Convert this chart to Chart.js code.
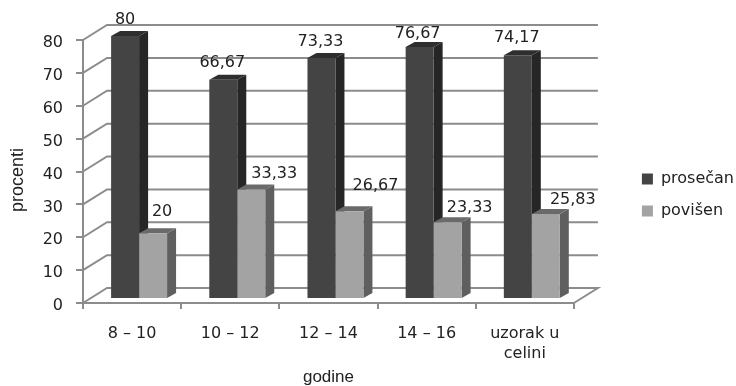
<!DOCTYPE html>
<html>
<head>
<meta charset="utf-8">
<style>
  html, body { margin: 0; background: #fff; }
  canvas { display: block; filter: blur(0.4px); }
</style>
<script src="https://cdn.jsdelivr.net/npm/chart.js@4/dist/chart.umd.min.js"></script>
</head>
<body>
<canvas id="chart" width="736" height="386"></canvas>
<script>
const categories = ["8 – 10", "10 – 12", "12 – 14", "14 – 16", ["uzorak u", "celini"]];
const prosecan = [80, 66.67, 73.33, 76.67, 74.17];
const povisen = [20, 33.33, 26.67, 23.33, 25.83];

// pomeraj prednje strane stubova u odnosu na osu i dubina 3D efekta
const barShift = { x: 7, y: -4 };
const barDepth = { x: 9, y: -5 };
const wallDepth = { x: 24, y: -15 };
const lineColor = "#8c8c8c";
const textFont = "'DejaVu Sans', sans-serif";

// rucno pomereni natpisi, kao na originalu
const labelOffsets = [
  [[0, -16], [-1, -17], [-1, -16], [-2, -13], [-1, -17]],
  [[9, -21], [23, -16], [26, -25], [22, -14], [27, -14]],
];
const faces = [
  { side: "#262626", top: "#2e2e2e" },
  { side: "#5f5f5f", top: "#6a6a6a" },
];

const bars3d = {
  id: "bars3d",
  afterLayout(chart) {
    // legenda stoji desno od zadnjeg zida
    chart.legend.left += 52;
    chart.legend.right += 52;
    chart.legend.top -= 18;
    chart.legend.bottom -= 18;
  },
  beforeDatasetsDraw(chart) {
    const { ctx, chartArea: area, scales } = chart;
    // zidovi i pod
    ctx.save();
    ctx.strokeStyle = lineColor;
    ctx.lineWidth = 2;
    scales.y.ticks.forEach((tick) => {
      const y = scales.y.getPixelForValue(tick.value);
      ctx.beginPath();
      ctx.moveTo(area.left, y);
      ctx.lineTo(area.left + wallDepth.x, y + wallDepth.y);
      ctx.lineTo(area.right + wallDepth.x, y + wallDepth.y);
      if (tick.value === 0) ctx.lineTo(area.right, y);
      ctx.stroke();
    });
    ctx.restore();

    // bocne i gornje strane stubova, prednje crta Chart.js
    ctx.save();
    ctx.translate(barShift.x, barShift.y);
    [0, 1].forEach((d) => {
      chart.getDatasetMeta(d).data.forEach((bar) => {
        const { x, y, base, width } = bar.getProps(["x", "y", "base", "width"], true);
        const r = x + width / 2;
        const l = x - width / 2;
        ctx.fillStyle = faces[d].side;
        ctx.beginPath();
        ctx.moveTo(r, y);
        ctx.lineTo(r + barDepth.x, y + barDepth.y);
        ctx.lineTo(r + barDepth.x, base + barDepth.y);
        ctx.lineTo(r, base);
        ctx.closePath();
        ctx.fill();
        ctx.fillStyle = faces[d].top;
        ctx.beginPath();
        ctx.moveTo(l, y);
        ctx.lineTo(l + barDepth.x, y + barDepth.y);
        ctx.lineTo(r + barDepth.x, y + barDepth.y);
        ctx.lineTo(r, y);
        ctx.closePath();
        ctx.fill();
      });
    });
    ctx.restore();

    ctx.save();
    ctx.translate(barShift.x, barShift.y);
  },
  afterDatasetsDraw(chart) {
    const { ctx, data, chartArea: area } = chart;
    ctx.restore();

    // vrednosti iznad stubova
    ctx.save();
    ctx.font = "16px " + textFont;
    ctx.fillStyle = "#222";
    ctx.textAlign = "center";
    ctx.textBaseline = "middle";
    data.datasets.forEach((ds, d) => {
      chart.getDatasetMeta(d).data.forEach((bar, i) => {
        const { x, y } = bar.getProps(["x", "y"], true);
        const [ox, oy] = labelOffsets[d][i];
        const text = String(ds.data[i]).replace(".", ",");
        ctx.fillText(text, x + barShift.x + ox, y + barShift.y + oy);
      });
    });
    ctx.restore();

    // naslov y ose nije centriran na plot
    ctx.save();
    ctx.font = "18px 'Liberation Sans', sans-serif";
    ctx.fillStyle = "#222";
    ctx.textAlign = "center";
    ctx.textBaseline = "middle";
    ctx.translate(18, area.top + 140);
    ctx.rotate(-Math.PI / 2);
    ctx.fillText("procenti", 0, 0);
    ctx.restore();
  },
};

new Chart(document.getElementById("chart"), {
  type: "bar",
  data: {
    labels: categories,
    datasets: [
      { label: "prosečan", data: prosecan, backgroundColor: "#444444", clip: false },
      { label: "povišen", data: povisen, backgroundColor: "#a3a3a3", clip: false },
    ],
  },
  options: {
    responsive: false,
    animation: false,
    events: [],
    layout: { padding: { top: 40, right: 44 } },
    datasets: { bar: { categoryPercentage: 0.57, barPercentage: 1 } },
    scales: {
      x: {
        afterFit(scale) { scale.height = 83; },
        grid: { drawOnChartArea: false, color: lineColor, lineWidth: 2, tickLength: 6 },
        border: { color: lineColor, width: 2 },
        ticks: {
          padding: 14,
          maxRotation: 0,
          color: "#222",
          font: { family: textFont, size: 16, lineHeight: 1.3 },
        },
        title: {
          display: true,
          text: "godine",
          color: "#222",
          padding: { top: 0, bottom: -2 },
          font: { family: "'Liberation Sans', sans-serif", size: 17 },
        },
      },
      y: {
        min: 0,
        max: 80,
        afterFit(scale) { scale.width = 83; },
        grid: { drawOnChartArea: false, color: lineColor, lineWidth: 2, tickLength: 7 },
        border: { color: lineColor, width: 2 },
        ticks: {
          stepSize: 10,
          padding: 13,
          labelOffset: 3,
          color: "#222",
          font: { family: textFont, size: 16 },
        },
      },
    },
    plugins: {
      tooltip: { enabled: false },
      legend: {
        position: "right",
        labels: {
          boxWidth: 11,
          boxHeight: 11,
          padding: 16,
          color: "#222",
          font: { family: textFont, size: 16 },
        },
      },
    },
  },
  plugins: [bars3d],
});
</script>
</body>
</html>
